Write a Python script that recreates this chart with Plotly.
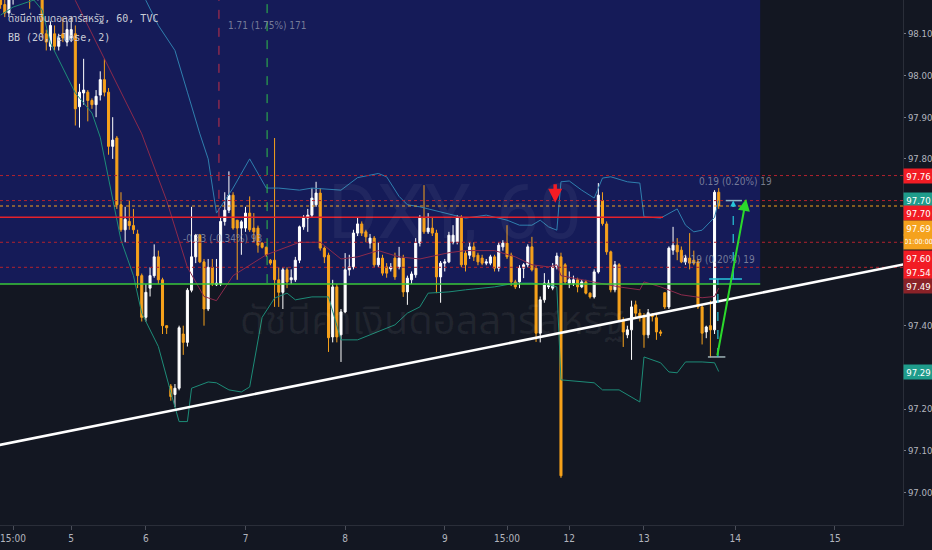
import plotly.graph_objects as go

# ---- candle data (hourly bars) ----
opens = [98.23, 98.17, 98.15, 98.19, 98.24, 98.28, 98.25, 98.27, 98.22, 98.20,
         98.22, 98.10, 98.07, 98.10, 98.07, 98.10, 98.08, 98.09, 98.10, 97.925,
         97.958, 97.96, 97.94, 97.93, 97.953, 97.99, 97.96, 97.83, 97.85, 97.69,
         97.63, 97.65, 97.64, 97.62, 97.52, 97.42, 97.49, 97.52, 97.565, 97.51,
         97.40, 97.255, 97.235, 97.25, 97.38, 97.36, 97.485, 97.565, 97.617, 97.553,
         97.44, 97.54, 97.498, 97.50, 97.65, 97.677, 97.713, 97.653, 97.634, 97.634,
         97.67, 97.634, 97.634, 97.598, 97.588, 97.557, 97.557, 97.51, 97.48, 97.534,
         97.51, 97.51, 97.557, 97.637, 97.658, 97.665, 97.69, 97.718, 97.586, 97.569,
         97.373, 97.493, 97.378, 97.433, 97.534, 97.541, 97.622, 97.644, 97.625, 97.598,
         97.610, 97.546, 97.562, 97.541, 97.536, 97.562, 97.541, 97.562, 97.481, 97.510,
         97.522, 97.598, 97.658, 97.625, 97.634, 97.622, 97.517, 97.55, 97.553, 97.60,
         97.601, 97.658, 97.574, 97.569, 97.589, 97.569, 97.562, 97.550, 97.550, 97.565,
         97.538, 97.589, 97.598, 97.569, 97.505, 97.505, 97.538, 97.546, 97.589, 97.538,
         97.382, 97.462, 97.493, 97.490, 97.541, 97.565, 97.546, 97.502, 97.502, 97.51,
         97.493, 97.505, 97.478, 97.469, 97.529, 97.70, 97.644, 97.577, 97.486, 97.546,
         97.414, 97.378, 97.390, 97.45, 97.43, 97.422, 97.378, 97.427, 97.419, 97.385,
         97.479, 97.445, 97.581, 97.593, 97.581, 97.553, 97.562, 97.557, 97.553, 97.445,
         97.385, 97.40, 97.39, 97.72]
highs = [98.25, 98.19, 98.21, 98.26, 98.31, 98.31, 98.29, 98.28, 98.24, 98.25,
         98.23, 98.11, 98.13, 98.12, 98.10, 98.14, 98.13, 98.14, 98.12, 97.98,
         98.04, 97.965, 97.945, 97.965, 98.01, 98.04, 97.97, 97.90, 97.855, 97.72,
         97.685, 97.70, 97.68, 97.63, 97.525, 97.50, 97.54, 97.595, 97.58, 97.515,
         97.40, 97.26, 97.26, 97.40, 97.40, 97.49, 97.685, 97.62, 97.62, 97.56,
         97.56, 97.56, 97.56, 97.66, 97.72, 97.77, 97.72, 97.653, 97.653, 97.685,
         97.71, 97.67, 97.64, 97.60, 97.59, 97.56, 97.85, 97.54, 97.54, 97.54,
         97.535, 97.565, 97.64, 97.665, 97.68, 97.73, 97.745, 97.73, 97.59, 97.575,
         97.51, 97.50, 97.44, 97.574, 97.57, 97.63, 97.66, 97.65, 97.63, 97.62,
         97.615, 97.60, 97.57, 97.55, 97.55, 97.575, 97.589, 97.57, 97.52, 97.53,
         97.61, 97.665, 97.737, 97.67, 97.66, 97.63, 97.555, 97.56, 97.625, 97.641,
         97.665, 97.665, 97.58, 97.60, 97.60, 97.575, 97.57, 97.56, 97.57, 97.57,
         97.60, 97.605, 97.641, 97.575, 97.51, 97.545, 97.55, 97.595, 97.613, 97.545,
         97.47, 97.526, 97.51, 97.55, 97.575, 97.575, 97.55, 97.53, 97.52, 97.515,
         97.51, 97.51, 97.48, 97.535, 97.742, 97.72, 97.65, 97.58, 97.555, 97.55,
         97.42, 97.40, 97.46, 97.46, 97.44, 97.43, 97.44, 97.43, 97.43, 97.39,
         97.48, 97.59, 97.637, 97.61, 97.59, 97.57, 97.622, 97.58, 97.56, 97.45,
         97.40, 97.46, 97.725, 97.73]
lows = [98.16, 98.14, 98.14, 98.17, 98.22, 98.23, 98.22, 98.16, 98.18, 98.18,
        98.09, 98.06, 98.06, 98.06, 98.06, 98.08, 98.07, 98.08, 97.88, 97.875,
        97.93, 97.89, 97.92, 97.90, 97.94, 97.95, 97.81, 97.80, 97.68, 97.625,
        97.60, 97.63, 97.62, 97.49, 97.41, 97.41, 97.47, 97.515, 97.50, 97.38,
        97.38, 97.22, 97.205, 97.245, 97.33, 97.35, 97.48, 97.55, 97.55, 97.40,
        97.435, 97.495, 97.495, 97.495, 97.64, 97.67, 97.63, 97.51, 97.57, 97.625,
        97.625, 97.60, 97.575, 97.585, 97.565, 97.545, 97.445, 97.445, 97.44, 97.49,
        97.50, 97.505, 97.55, 97.63, 97.625, 97.66, 97.685, 97.58, 97.55, 97.337,
        97.36, 97.36, 97.313, 97.43, 97.52, 97.535, 97.615, 97.615, 97.60, 97.585,
        97.54, 97.54, 97.52, 97.515, 97.53, 97.51, 97.535, 97.469, 97.45, 97.50,
        97.515, 97.59, 97.62, 97.62, 97.615, 97.478, 97.455, 97.53, 97.55, 97.595,
        97.595, 97.54, 97.53, 97.56, 97.555, 97.545, 97.545, 97.545, 97.545, 97.53,
        97.53, 97.58, 97.56, 97.495, 97.488, 97.49, 97.514, 97.54, 97.53, 97.361,
        97.36, 97.455, 97.488, 97.485, 97.535, 97.035, 97.50, 97.49, 97.495, 97.48,
        97.49, 97.475, 97.465, 97.465, 97.525, 97.64, 97.57, 97.48, 97.48, 97.41,
        97.349, 97.37, 97.318, 97.42, 97.41, 97.347, 97.37, 97.41, 97.366, 97.375,
        97.44, 97.44, 97.57, 97.557, 97.55, 97.546, 97.535, 97.545, 97.44, 97.355,
        97.37, 97.324, 97.38, 97.68]
closes = [98.17, 98.15, 98.19, 98.24, 98.28, 98.25, 98.27, 98.22, 98.20, 98.22,
          98.10, 98.08, 98.12, 98.07, 98.09, 98.09, 98.11, 98.11, 97.92, 97.96,
          97.965, 97.94, 97.93, 97.95, 97.99, 97.96, 97.83, 97.845, 97.69, 97.63,
          97.655, 97.64, 97.63, 97.52, 97.42, 97.48, 97.52, 97.565, 97.51, 97.40,
          97.395, 97.23, 97.25, 97.395, 97.36, 97.485, 97.565, 97.617, 97.553, 97.44,
          97.54, 97.50, 97.502, 97.65, 97.677, 97.713, 97.634, 97.634, 97.649, 97.67,
          97.63, 97.625, 97.593, 97.588, 97.57, 97.55, 97.51, 97.48, 97.534, 97.505,
          97.515, 97.557, 97.637, 97.658, 97.665, 97.706, 97.718, 97.586, 97.565, 97.371,
          97.493, 97.373, 97.433, 97.534, 97.541, 97.622, 97.644, 97.622, 97.613, 97.610,
          97.546, 97.562, 97.526, 97.526, 97.541, 97.517, 97.562, 97.481, 97.514, 97.524,
          97.598, 97.658, 97.625, 97.634, 97.622, 97.517, 97.55, 97.553, 97.617, 97.617,
          97.658, 97.546, 97.546, 97.589, 97.565, 97.553, 97.550, 97.553, 97.565, 97.538,
          97.593, 97.598, 97.565, 97.505, 97.493, 97.538, 97.546, 97.589, 97.534, 97.382,
          97.462, 97.502, 97.502, 97.541, 97.567, 97.04, 97.505, 97.510, 97.51, 97.493,
          97.505, 97.478, 97.469, 97.529, 97.713, 97.645, 97.577, 97.486, 97.546, 97.414,
          97.385, 97.390, 97.445, 97.43, 97.422, 97.378, 97.431, 97.422, 97.385, 97.382,
          97.445, 97.586, 97.593, 97.577, 97.553, 97.562, 97.55, 97.55, 97.445, 97.382,
          97.397, 97.39, 97.72, 97.687]
bar_index = list(range(len(opens)))

# Bollinger bands (20, close, 2) at some bars
bb_upper_x = [0, 10, 19, 26, 31, 35, 38, 42, 45, 48, 50, 51, 52, 56, 60, 64, 67, 72, 75, 82,
              86, 91, 93, 96, 98, 101, 106, 112, 117, 122, 125, 128, 130, 132, 134, 135, 137, 140, 143, 145,
              147, 151, 154, 155, 159, 161, 163, 165, 167, 169, 172, 173]
bb_upper = [98.47, 98.44, 98.40, 98.33, 98.25, 98.18, 98.12, 98.06, 97.96, 97.86,
            97.80, 97.73, 97.67, 97.73, 97.80, 97.73, 97.73, 97.725, 97.73, 97.725,
            97.755, 97.765, 97.757, 97.71, 97.69, 97.685, 97.673, 97.658, 97.665, 97.653,
            97.641, 97.641, 97.653, 97.637, 97.629, 97.745, 97.747, 97.725, 97.706, 97.754,
            97.757, 97.745, 97.742, 97.661, 97.658, 97.670, 97.680, 97.641, 97.625, 97.629,
            97.66, 97.70]
bb_basis_x = [0, 10, 18, 26, 34, 40, 45, 49, 52, 56, 64, 72, 77, 82, 86, 91, 96, 101, 108, 112,
              119, 124, 128, 132, 134, 135, 149, 154, 155, 159, 164, 169, 172, 173]
bb_basis = [98.31, 98.27, 98.18, 98.02, 97.86, 97.70, 97.54, 97.47, 97.46, 97.52,
            97.57, 97.60, 97.60, 97.56, 97.565, 97.58, 97.565, 97.56, 97.575, 97.58,
            97.58, 97.565, 97.546, 97.541, 97.546, 97.52, 97.493, 97.486, 97.505, 97.493,
            97.474, 97.467, 97.47, 97.49]
bb_lower_x = [0, 3, 8, 10, 12, 18, 22, 24, 29, 32, 34, 38, 41, 43, 45, 46, 50, 52, 55, 58,
              60, 63, 66, 69, 71, 75, 79, 82, 86, 91, 95, 98, 101, 103, 108, 112, 119, 124, 128, 132,
              134, 135, 143, 145, 149, 154, 155, 159, 161, 163, 165, 169, 172, 173]
bb_lower = [98.145, 98.164, 98.181, 98.157, 98.078, 97.958, 97.91, 97.852, 97.605, 97.52,
            97.43, 97.35, 97.24, 97.17, 97.17, 97.25, 97.265, 97.263, 97.246, 97.241,
            97.253, 97.42, 97.466, 97.478, 97.462, 97.469, 97.469, 97.366, 97.366, 97.385,
            97.402, 97.43, 97.445, 97.478, 97.481, 97.486, 97.493, 97.502, 97.502, 97.498,
            97.493, 97.27, 97.263, 97.246, 97.246, 97.217, 97.325, 97.311, 97.289, 97.287,
            97.313, 97.313, 97.311, 97.29]

# time axis
tick_bars = [3, 17, 35, 59, 83, 107, 122, 137, 155, 177, 201]
tick_labels = ["15:00", "5", "6", "7", "8", "9", "15:00", "12", "13", "14", "15"]
price_ticks = [97.0, 97.1, 97.2, 97.4, 97.8, 97.9, 98.0, 98.1]

# drawn levels
red_levels = [97.76, 97.70, 97.60, 97.54]
red_solid_level = 97.66
green_level = 97.50
trend_x = [-0.2, 217.5]
trend_y = [97.114, 97.547]

# price badges on the right scale
badge_text = ["97.76", "97.70", "97.70", "97.69", "01:00:00", "97.60", "97.54", "97.49", "97.29"]
badge_pos = [97.759, 97.701, 97.670, 97.634, 97.601, 97.562, 97.529, 97.495, 97.289]
badge_color = ["#f21c24", "#1f9c8b", "#f21c24", "#f5a21d", "#f5a21d", "#f21c24", "#f21c24",
               "#8a2228", "#1f9c8b"]

BG = "#131722"
ORANGE = "#f7a21b"
AXIS_FONT = "DejaVu Sans Condensed, Liberation Sans Narrow, Liberation Sans, sans-serif"
THAI_FONT = "Noto Sans Thai, Noto Sans, DejaVu Sans, sans-serif"

X_MIN, X_MAX = -0.15, 217.4
Y_MIN, Y_MAX = 96.922, 98.181

fig = go.Figure()

# bands first so candles sit on top
fig.add_trace(go.Scatter(x=bb_upper_x, y=bb_upper, mode="lines",
                         line=dict(color="#2f7fae", width=1), hoverinfo="skip"))
fig.add_trace(go.Scatter(x=bb_basis_x, y=bb_basis, mode="lines",
                         line=dict(color="#8c2a4c", width=1), hoverinfo="skip"))
fig.add_trace(go.Scatter(x=bb_lower_x, y=bb_lower, mode="lines",
                         line=dict(color="#1d8c78", width=1), hoverinfo="skip"))

fig.add_trace(go.Candlestick(
    x=bar_index, open=opens, high=highs, low=lows, close=closes,
    increasing=dict(line=dict(color="#ffffff", width=1), fillcolor="#ffffff"),
    decreasing=dict(line=dict(color=ORANGE, width=1), fillcolor=ORANGE),
    whiskerwidth=0, hoverinfo="skip"))

shapes = []
# navy rectangle
shapes.append(dict(type="rect", xref="x", yref="y", x0=-1, x1=183, y0=green_level, y1=98.3,
                   fillcolor="#151b58", line=dict(width=0), layer="below"))
# horizontal levels
for lv in red_levels:
    shapes.append(dict(type="line", xref="paper", yref="y", x0=0, x1=1, y0=lv, y1=lv,
                       line=dict(color="#b3222e", width=1, dash="dot")))
shapes.append(dict(type="line", xref="paper", yref="y", x0=0, x1=1, y0=closes[-1], y1=closes[-1],
                   line=dict(color=ORANGE, width=1, dash="dot")))
shapes.append(dict(type="line", xref="x", yref="y", x0=X_MIN, x1=159.6,
                   y0=red_solid_level, y1=red_solid_level, line=dict(color="#e5212b", width=1.5)))
shapes.append(dict(type="line", xref="x", yref="y", x0=X_MIN, x1=183,
                   y0=green_level, y1=green_level, line=dict(color="#38c73a", width=1.5)))
# vertical dashed markers of the range tool
shapes.append(dict(type="line", xref="x", yref="y", x0=52.6, x1=52.6, y0=97.661, y1=98.3,
                   line=dict(color="#c2304a", width=1, dash="dash")))
shapes.append(dict(type="line", xref="x", yref="y", x0=64.2, x1=64.2, y0=97.502, y1=98.3,
                   line=dict(color="#2fbf4a", width=1, dash="dash")))
# trend line
shapes.append(dict(type="line", xref="x", yref="y", x0=trend_x[0], x1=trend_x[1],
                   y0=trend_y[0], y1=trend_y[1], line=dict(color="#ffffff", width=2.5)))
# small measurement drawing at the right end
shapes.append(dict(type="line", xref="x", yref="y", x0=174.7, x1=178.6, y0=97.70, y1=97.70,
                   line=dict(color="#8fb3c4", width=1.5)))
shapes.append(dict(type="line", xref="x", yref="y", x0=170.7, x1=178.6, y0=97.512, y1=97.512,
                   line=dict(color="#26c6da", width=1.5)))
shapes.append(dict(type="line", xref="x", yref="y", x0=170.4, x1=174.6, y0=97.325, y1=97.325,
                   line=dict(color="#9fb3b8", width=1.5)))
shapes.append(dict(type="line", xref="x", yref="y", x0=176.5, x1=176.5, y0=97.512, y1=97.69,
                   line=dict(color="#26c6da", width=1.2, dash="dash")))
shapes.append(dict(type="line", xref="x", yref="y", x0=172.8, x1=172.8, y0=97.325, y1=97.512,
                   line=dict(color="#26c6da", width=1.2, dash="dash")))

annotations = []
# watermark
annotations.append(dict(x=109.5, y=97.673, xref="x", yref="y", text="DXY, 60", showarrow=False,
                        font=dict(family="Roboto, Liberation Sans, sans-serif", size=76,
                                  color="rgba(255,255,255,0.05)")))
annotations.append(dict(x=104, y=97.409, xref="x", yref="y", text="ดัชนีค่าเงินดอลลาร์สหรัฐ",
                        showarrow=False,
                        font=dict(family=THAI_FONT, size=40, color="rgba(255,255,255,0.06)")))
# legend lines
annotations.append(dict(x=0, y=1 - 18 / 525, xref="paper", yref="paper", xanchor="left",
                        yanchor="middle", xshift=6, showarrow=False,
                        text="ดัชนีค่าเงินดอลลาร์สหรัฐ, 60, TVC",
                        font=dict(family="DejaVu Sans Mono, " + THAI_FONT, size=10, color="#c9ccd6")))
annotations.append(dict(x=0, y=1 - 37 / 525, xref="paper", yref="paper", xanchor="left",
                        yanchor="middle", xshift=6, showarrow=False, text="BB (20, close, 2)",
                        font=dict(family="DejaVu Sans Mono, monospace", size=10, color="#c9ccd6")))
# range-tool labels
tool_txt = ["1.71 (1.75%) 171", "-0.33 (-0.34%) 93", "0.19 (0.20%) 19", "0.19 (0.20%) 19"]
tool_x = [64.4, 53.4, 177.0, 172.9]
tool_y = [98.121, 97.608, 97.745, 97.558]
for t, tx, ty in zip(tool_txt, tool_x, tool_y):
    annotations.append(dict(x=tx, y=ty, xref="x", yref="y", text=t, showarrow=False,
                            font=dict(family=AXIS_FONT, size=10, color="rgba(150,156,175,0.75)")))
# red down arrow
annotations.append(dict(x=133.6, y=97.695, xref="x", yref="y", ax=0, ay=-20, text="",
                        showarrow=True, arrowhead=2, arrowsize=0.8, arrowwidth=3.5,
                        arrowcolor="#f21c24"))
# green arrow
annotations.append(dict(x=179.6, y=97.704, xref="x", yref="y", ax=172.6, ay=97.325,
                        axref="x", ayref="y", text="", showarrow=True, arrowhead=2,
                        arrowsize=1.2, arrowwidth=2, arrowcolor="#2bd92b"))
# cyan arrow tip
annotations.append(dict(x=176.5, y=97.70, xref="x", yref="y", ax=0, ay=8, text="",
                        showarrow=True, arrowhead=2, arrowsize=1, arrowwidth=1.2,
                        arrowcolor="#26c6da"))
# price badges
for t, py, c in zip(badge_text, badge_pos, badge_color):
    size = 9.5 if len(t) <= 5 else 7   # countdown shrunk so it fits the scale width
    annotations.append(dict(x=1, y=py, xref="paper", yref="y", xanchor="left", yanchor="middle",
                            text=t, showarrow=False, bgcolor=c, borderpad=1, width=27, height=12,
                            align="center",
                            font=dict(family=AXIS_FONT, size=size, color="#ffffff")))

fig.update_layout(
    width=932, height=550,
    margin=dict(l=0, r=29, t=0, b=25, pad=0),
    paper_bgcolor=BG, plot_bgcolor=BG,
    showlegend=False,
    shapes=shapes, annotations=annotations,
    xaxis=dict(range=[X_MIN, X_MAX], rangeslider=dict(visible=False),
               tickvals=tick_bars, ticktext=tick_labels, ticks="outside", ticklen=4,
               tickcolor="#4a4e59", showgrid=False, zeroline=False, showline=True,
               linecolor="#2a2e39", linewidth=1, automargin=False,
               tickfont=dict(family=AXIS_FONT, size=10, color="#b2b5be")),
    yaxis=dict(range=[Y_MIN, Y_MAX], side="right", tickvals=price_ticks,
               ticktext=[f"{v:.2f}" for v in price_ticks], ticks="outside", ticklen=2,
               tickcolor="#787b86", showgrid=False, zeroline=False, showline=True,
               linecolor="#2a2e39", linewidth=1, automargin=False,
               tickfont=dict(family=AXIS_FONT, size=9.5, color="#b2b5be")),
)

# the page body has a default 8px margin; drop it so the chart sits at the corner
fig.write_html("out.html", config={"displayModeBar": False},
               post_script="document.body.style.margin='0';document.body.style.overflow='hidden';")
